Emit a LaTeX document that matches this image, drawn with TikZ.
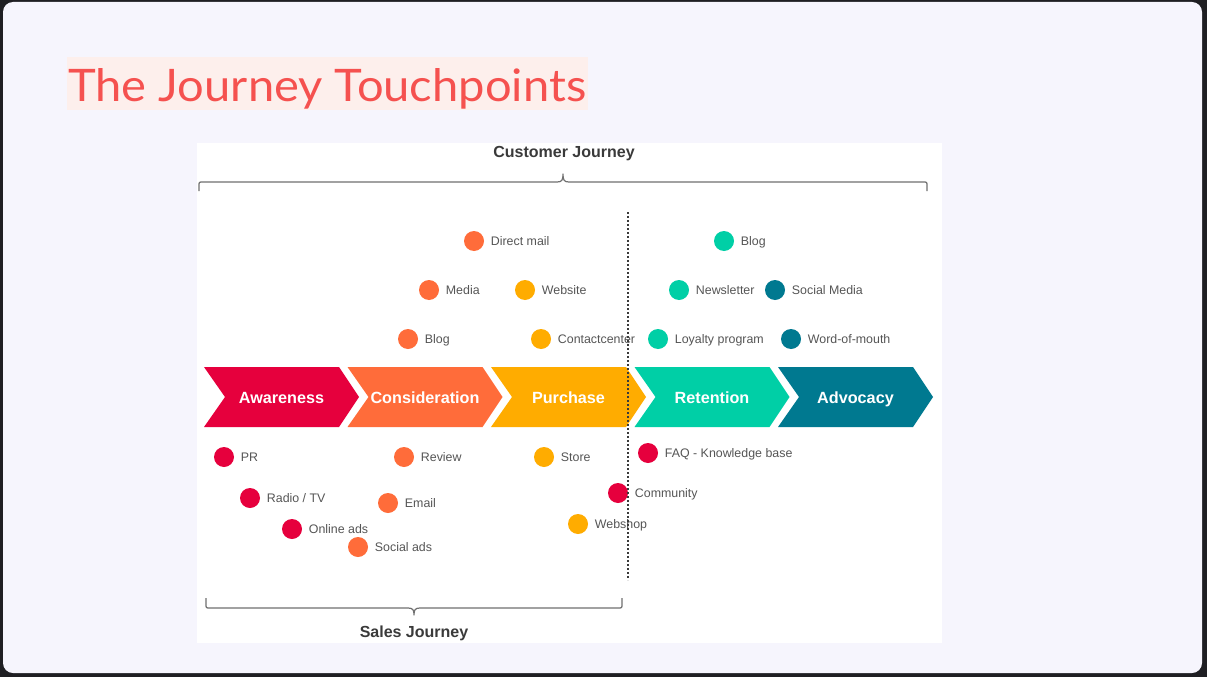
\documentclass[tikz,border=0pt]{standalone}
\usepackage{fontspec}
\setmainfont{Liberation Sans}
\newfontfamily\titlefont{Lato}

\definecolor{framedark}{HTML}{1F1F23}
\definecolor{slidebg}{HTML}{F6F5FD}
\definecolor{titlebg}{HTML}{FDEFEC}
\definecolor{titlered}{HTML}{F5514F}
\definecolor{cAware}{HTML}{E6003D}
\definecolor{cConsid}{HTML}{FF6C3A}
\definecolor{cPurch}{HTML}{FFAC00}
\definecolor{cReten}{HTML}{00CFA6}
\definecolor{cAdvoc}{HTML}{007990}
\definecolor{labelgray}{HTML}{555555}
\definecolor{headgray}{HTML}{3A3A3A}
\definecolor{bracegray}{HTML}{707070}

\tikzset{
  stage/.style={text=white, font=\fontsize{16.2}{18}\selectfont\bfseries, inner sep=0pt, anchor=base},
  dot/.style={circle, inner sep=0pt, minimum size=20pt, draw=none},
  tplabel/.style={anchor=west, inner sep=0pt, text height=9pt, text depth=2.5pt,
    text=labelgray, font=\fontsize{12.4}{14}\selectfont},
  journey/.style={text=headgray, font=\fontsize{16}{18}\selectfont\bfseries, inner sep=0pt},
  brace/.style={draw=bracegray, line width=1.2pt, line join=round},
  divider/.style={draw=headgray, line width=1.2pt, dash pattern=on 2pt off 2pt}
}

% chevron: name, left x, colour, text
\newcommand\chevron[4]{%
  \fill[#3] (#2,367) -- ++(135,0) -- ++(20,30) -- ++(-20,30) -- ++(-135,0) -- ++(21,-30) -- cycle;
  \node[stage] (#1) at (#2+77.5,403.5) {#4};}

% touchpoint: name, x, y, colour, text
\newcommand\touchpt[5]{%
  \node[dot, fill=#4] (#1) at (#2,#3) {};
  \node[tplabel] (#1-l) at ([xshift=6.5pt,yshift=-1pt]#1.east) {#5};}

\begin{document}
\begin{tikzpicture}[x=1pt,y=-1pt]
\useasboundingbox (0,0) rectangle (1207,677);

% slide frame and background
\fill[framedark] (0,0) rectangle (1207,677);
\fill[slidebg, rounded corners=10pt] (3,2) rectangle (1202,673);

% title
\fill[titlebg] (67,57) rectangle (588,110);
\node[anchor=base west, inner sep=0pt, text=titlered] (title) at (68,101)
  {\resizebox{518pt}{33pt}{\titlefont The Journey Touchpoints}};

% diagram panel
\fill[white] (197,143) rectangle (942,643);

% journey headings and braces
\node[journey] (cj) at (564,154) {Customer Journey};
\node[journey] (sj) at (414,633) {Sales Journey};

\draw[brace] (199,191) -- (199,186) .. controls (199,182) .. (203,182) -- (557,182)
  .. controls (562,182) and (563,180) .. (563,174)
  .. controls (563,180) and (564,182) .. (569,182) -- (923,182)
  .. controls (927,182) .. (927,186) -- (927,191);

\draw[brace] (206,598) -- (206,604) .. controls (206,608) .. (210,608) -- (408,608)
  .. controls (413,608) and (414,610) .. (414,615)
  .. controls (414,610) and (415,608) .. (420,608) -- (618,608)
  .. controls (622,608) .. (622,604) -- (622,598);

% stages
\chevron{aware}{204}{cAware}{Awareness}
\chevron{consid}{347.5}{cConsid}{Consideration}
\chevron{purch}{491}{cPurch}{Purchase}
\chevron{reten}{634.5}{cReten}{Retention}
\chevron{advoc}{778}{cAdvoc}{Advocacy}

% touchpoints above the stages
\touchpt{directmail}{474}{241}{cConsid}{Direct mail}
\touchpt{media}{429}{290}{cConsid}{Media}
\touchpt{website}{525}{290}{cPurch}{Website}
\touchpt{blogc}{408}{339}{cConsid}{Blog}
\touchpt{contact}{541}{339}{cPurch}{Contactcenter}
\touchpt{blogr}{724}{241}{cReten}{Blog}
\touchpt{newsletter}{679}{290}{cReten}{Newsletter}
\touchpt{social}{775}{290}{cAdvoc}{Social Media}
\touchpt{loyalty}{658}{339}{cReten}{Loyalty program}
\touchpt{wom}{791}{339}{cAdvoc}{Word-of-mouth}

% touchpoints below the stages
\touchpt{pr}{224}{457}{cAware}{PR}
\touchpt{review}{404}{457}{cConsid}{Review}
\touchpt{store}{544}{457}{cPurch}{Store}
\touchpt{faq}{648}{453}{cAware}{FAQ - Knowledge base}
\touchpt{radio}{250}{498}{cAware}{Radio / TV}
\touchpt{email}{388}{503}{cConsid}{Email}
\touchpt{community}{618}{493}{cAware}{Community}
\touchpt{online}{292}{529}{cAware}{Online ads}
\touchpt{socialads}{358}{547}{cConsid}{Social ads}
\touchpt{webshop}{578}{524}{cPurch}{Webshop}

% sales / after-sales divider
\coordinate (divtop) at (628,212);
\coordinate (divbot) at (628,580);
\draw[divider] (divtop) -- (divbot);
\end{tikzpicture}
\end{document}
